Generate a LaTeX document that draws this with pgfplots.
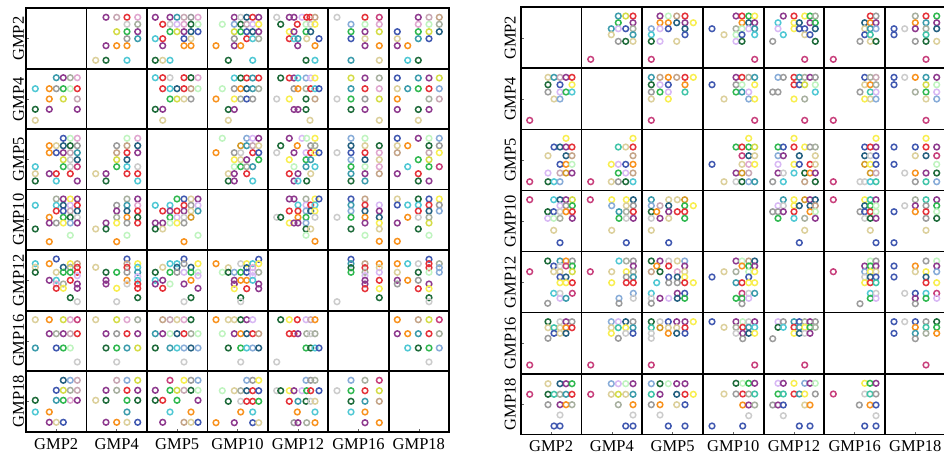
\documentclass[border=0pt]{standalone}
\usepackage{pgfplots}
\pgfplotsset{compat=1.18}
\usepackage{fontspec}
\setmainfont{Liberation Serif}

% palette of the circle outlines
\definecolor{cpu}{HTML}{8E3A8E}
\definecolor{crd}{HTML}{E53239}
\definecolor{cpk}{HTML}{E0A8D0}
\definecolor{cgp}{HTML}{C8A8B4}
\definecolor{clg}{HTML}{CCCCCC}
\definecolor{col}{HTML}{A8B0A0}
\definecolor{cyg}{HTML}{D4DC48}
\definecolor{cgn}{HTML}{30B850}
\definecolor{cdg}{HTML}{1E6B3A}
\definecolor{cor}{HTML}{F8921E}
\definecolor{ccy}{HTML}{50C8D4}
\definecolor{ctl}{HTML}{3C9CAC}
\definecolor{cbl}{HTML}{4058B0}
\definecolor{ckh}{HTML}{DCD09C}
\definecolor{cmg}{HTML}{C0F4C0}
\definecolor{cgy}{HTML}{9C9C9C}
\definecolor{cye}{HTML}{F8EE50}
\definecolor{csb}{HTML}{88ACD8}
\definecolor{clv}{HTML}{D8B8F4}
\definecolor{ctn}{HTML}{C4A488}
\definecolor{cmb}{HTML}{C8407C}
\definecolor{cdt}{HTML}{246080}
\definecolor{caq}{HTML}{40C4A8}
\definecolor{cgd}{HTML}{D49A28}

\tikzset{mk/.style={mark=o,line width=1.5pt,draw=#1}}

\pgfplotsset{
  spm/.style={
    scale only axis,
    axis line style={black, line width=1.7pt},
    tick style={black!60, line width=0.6pt},
    major tick length=3pt,
    xtick pos=left, ytick pos=left,
    xticklabels={GMP2,GMP4,GMP5,GMP10,GMP12,GMP16,GMP18},
    yticklabels={GMP18,GMP16,GMP12,GMP10,GMP5,GMP4,GMP2},
    tick label style={font=\fontsize{16.5pt}{19pt}\selectfont},
    xticklabel style={anchor=north, inner sep=0pt, yshift=-6.3pt},
    extra tick style={grid=major, major grid style={black, line width=1.8pt}, major tick length=0pt},
    extra x tick labels={,,,,,},
    extra y tick labels={,,,,,},
  },
  pts/.style={
    scatter, only marks, mark size=2.85pt,
    scatter src=explicit symbolic,
    scatter/classes={
      pu={mk=cpu}, rd={mk=crd}, pk={mk=cpk}, gp={mk=cgp}, lg={mk=clg},
      ol={mk=col}, yg={mk=cyg}, gn={mk=cgn}, dg={mk=cdg}, or={mk=cor},
      cy={mk=ccy}, tl={mk=ctl}, bl={mk=cbl}, kh={mk=ckh}, mg={mk=cmg},
      gy={mk=cgy}, ye={mk=cye}, sb={mk=csb}, lv={mk=clv}, tn={mk=ctn},
      mb={mk=cmb}, dt={mk=cdt}, aq={mk=caq}, gd={mk=cgd}}
  }
}

\begin{document}
\begin{tikzpicture}
\path[use as bounding box] (0,0) rectangle (944pt,454pt);
\clip (0,0) rectangle (944pt,454pt);

% ---------------- left scatterplot matrix ----------------
\begin{axis}[spm,
  at={(26pt,22.3pt)}, anchor=south west,
  width=423pt, height=423.4pt,
  xmin=26, xmax=449, ymin=-431.7, ymax=-8.3,
  xtick={56.25,116.75,177.2,237.6,298,358.4,418.8},
  ytick={-401.35,-340.85,-280.35,-219.75,-159.4,-99.15,-38.65},
  yticklabel style={xshift=-2pt, rotate=90, anchor=base, inner sep=0pt},
  extra x ticks={86.5,147,207.4,267.8,328.2,388.6},
  extra y ticks={-69,-129.3,-189.5,-250,-310.7,-371},
]
\addplot[pts] table[row sep=\\, meta=c, y expr=-\thisrow{y}] {
x y c \\
106 17.3 pu \\ 116.7 17.3 gp \\ 127 17.3 rd \\ 137.7 17.3 pk \\ 127 24.3 lg \\ 137.7 24.3 ol \\ 116.7 31.7 yg \\ 127 31.7 gn \\ 137.7 31.7 pu \\ 127 38.7 gy \\ 137.7 38.7 tl \\ 106 45.7 pu \\ 116.7 45.7 or \\ 127 45.7 or \\ 95.7 60.3 kh \\ 106 60.3 dg \\ 127 60.3 cy \\
155.3 17.3 pu \\ 170 17.3 pu \\ 177 17.3 tl \\ 184 17.3 gp \\ 191 17.3 gy \\ 198 17.3 pk \\ 162.7 24.3 rd \\ 170 24.3 lg \\ 177 24.3 lv \\ 184 24.3 pk \\ 191 24.3 dg \\ 198 24.3 mg \\ 170 31.7 gn \\ 177 31.7 yg \\ 184 31.7 pu \\ 191 31.7 dt \\ 198 31.7 bl \\ 155.3 38.7 cy \\ 162.7 38.7 rd \\ 184 38.7 bl \\ 191 38.7 kh \\ 162.7 45.7 pu \\ 184 45.7 or \\ 191 45.7 or \\ 155.3 60.3 dg \\ 162.7 60.3 kh \\ 170 60.3 cy \\
234.3 17.3 pu \\ 240.7 17.3 lg \\ 246.7 17.3 dt \\ 252.7 17.3 rd \\ 258.7 17.3 pu \\ 222.3 24.3 mg \\ 234.3 24.3 sb \\ 240.7 24.3 dg \\ 246.7 24.3 gp \\ 252.7 24.3 lv \\ 258.7 24.3 ye \\ 234.3 31.7 yg \\ 240.7 31.7 gn \\ 246.7 31.7 bl \\ 252.7 31.7 dt \\ 258.7 31.7 pu \\ 234.3 38.7 gy \\ 246.7 38.7 rd \\ 252.7 38.7 cy \\ 258.7 38.7 ol \\ 216 45.7 or \\ 234.3 45.7 pu \\ 240.7 45.7 or \\ 228.3 60.3 dg \\ 252.7 60.3 cy \\
276.7 17.3 lg \\ 289.3 17.3 pu \\ 294 17.3 pu \\ 302 17.3 lv \\ 306.7 17.3 rd \\ 310 17.3 rd \\ 315 17.3 tn \\ 280.7 24.3 dg \\ 297.3 24.3 rd \\ 306 24.3 mg \\ 310.7 24.3 lg \\ 315 24.3 ye \\ 289.3 31.7 ye \\ 294 31.7 pu \\ 306 31.7 gn \\ 310.7 31.7 dt \\ 289.3 38.7 rd \\ 294 38.7 cy \\ 298 38.7 tl \\ 306.7 38.7 kh \\ 319 38.7 bl \\ 297.7 45.7 pu \\ 315 45.7 or \\ 306 60.3 dg \\ 315 60.3 cy \\
337 17.3 lg \\ 365 17.3 rd \\ 379.3 17.3 mb \\ 351 24.3 sb \\ 365 24.3 mg \\ 379.3 24.3 pk \\ 351 31.7 gn \\ 365 31.7 pu \\ 379.3 31.7 yg \\ 351 38.7 bl \\ 365 38.7 kh \\ 365 45.7 pu \\ 379.3 45.7 or \\ 351 60.3 tl \\ 379.3 60.3 kh \\
418.3 17.3 pu \\ 429 17.3 gp \\ 439.3 17.3 tn \\ 418.3 24.3 pk \\ 429 24.3 mg \\ 439.3 24.3 ol \\ 397.3 31.7 bl \\ 418.3 31.7 gn \\ 429 31.7 yg \\ 439.3 31.7 dt \\ 397.3 38.7 kh \\ 418.3 38.7 tl \\ 429 38.7 bl \\ 397.3 45.7 pu \\ 407.7 45.7 or \\ 407.7 60.3 cy \\ 418.3 60.3 dg \\
56.3 77.7 tl \\ 63.3 77.7 pu \\ 70.3 77.7 ol \\ 77.3 77.7 pk \\ 35.3 88.7 cy \\ 49.3 88.7 or \\ 56.3 88.7 gy \\ 63.3 88.7 gn \\ 70.3 88.7 mg \\ 77.3 88.7 rd \\ 49.3 99 or \\ 63.3 99 yg \\ 77.3 99 gp \\ 35.3 109.3 dg \\ 49.3 109.3 pu \\ 77.3 109.3 pu \\ 35.3 120.3 kh \\
155.3 77.7 cy \\ 162.7 77.7 rd \\ 170 77.7 lg \\ 184 77.7 rd \\ 191 77.7 dg \\ 198 77.7 pk \\ 162.7 88.7 rd \\ 170 88.7 cy \\ 177 88.7 dt \\ 184 88.7 rd \\ 191 88.7 tn \\ 198 88.7 mg \\ 170 99 gn \\ 177 99 yg \\ 184 99 kh \\ 191 99 gy \\ 155.3 109.3 dg \\ 162.7 109.3 pu \\ 162.7 120.3 kh \\
234.3 78 cy \\ 240.7 78 dg \\ 246.7 78 rd \\ 252.7 78 tl \\ 258.7 78 rd \\ 222.3 88.7 mg \\ 234.3 88.7 gy \\ 240.7 88.7 or \\ 246.7 88.7 dt \\ 252.7 88.7 tl \\ 258.7 88.7 ol \\ 216 99 or \\ 234.3 99 ye \\ 240.7 99 ol \\ 246.7 99 bl \\ 252.7 99 gy \\ 228.3 109.5 dg \\ 234.3 109.5 pu \\ 228.3 120.3 kh \\
280.7 78 dg \\ 289.3 78 rd \\ 294 78 pu \\ 298 78 cy \\ 306 78 sb \\ 310.7 78 lv \\ 315 78 ye \\ 294 88.7 gy \\ 298 88.7 or \\ 306 88.7 ol \\ 310.7 88.7 rd \\ 315 88.7 cy \\ 319 88.7 bl \\ 276.7 99 lg \\ 289.3 99 ye \\ 306 99 dg \\ 315 99 tn \\ 294 109.5 pu \\ 298 109.5 pu \\ 306 109.5 dg \\ 310 120.3 kh \\
351 78 yg \\ 365 78 pu \\ 379.3 78 ol \\ 351 88.7 tl \\ 365 88.7 rd \\ 379.3 88.7 pk \\ 337 99 lg \\ 351 99 gn \\ 365 99 gy \\ 379.3 99 yg \\ 351 109.5 dg \\ 365 109.5 pu \\ 379.3 120.3 kh \\
397.3 78 bl \\ 418.3 78 tl \\ 429 78 pu \\ 439.3 78 yg \\ 397.3 88.7 kh \\ 407.7 88.7 tl \\ 418.3 88.7 gn \\ 429 88.7 rd \\ 439.3 88.7 sb \\ 397.3 99 or \\ 429 99 ol \\ 439.3 99 gp \\ 397.3 109.5 pu \\ 418.3 109.5 dg \\ 429 109.5 pu \\ 418.3 120.3 kh \\
63.3 138.3 bl \\ 70.3 138.3 mg \\ 77.3 138.3 pk \\ 49.3 145.7 or \\ 56.3 145.7 kh \\ 63.3 145.7 dt \\ 70.3 145.7 dg \\ 77.3 145.7 gy \\ 49.3 152.7 or \\ 56.3 152.7 bl \\ 63.3 152.7 pu \\ 70.3 152.7 gp \\ 77.3 152.7 tl \\ 63.3 159.7 yg \\ 70.3 159.7 lg \\ 77.3 159.7 dt \\ 35.3 166.7 cy \\ 63.3 166.7 gn \\ 70.3 166.7 lg \\ 77.3 166.7 mb \\ 35.3 173.7 kh \\ 49.3 173.7 pu \\ 56.3 173.7 rd \\ 70.3 173.7 rd \\ 35.3 181 dg \\ 56.3 181 cy \\ 77.3 181 pu \\
127 138.3 mg \\ 137.7 138.3 pk \\ 116.7 145.7 gy \\ 127 145.7 tn \\ 137.7 145.7 dt \\ 116.7 152.7 tn \\ 127 152.7 rd \\ 137.7 152.7 pu \\ 116.7 159.7 yg \\ 127 159.7 dt \\ 116.7 166.7 gn \\ 127 166.7 cy \\ 137.7 166.7 lg \\ 95.7 173.7 kh \\ 106 173.7 pu \\ 127 173.7 rd \\ 137.7 173.7 rd \\ 106 181 dg \\ 137.7 181 cy \\
222.3 138.3 mg \\ 246.7 138.3 sb \\ 252.7 138.3 lv \\ 258.7 138.3 pu \\ 240.7 145.7 gd \\ 246.7 145.7 tl \\ 252.7 145.7 gp \\ 258.7 145.7 kh \\ 216 152.7 or \\ 234.3 152.7 gy \\ 240.7 152.7 lg \\ 252.7 152.7 rd \\ 258.7 152.7 bl \\ 234.3 159.7 ye \\ 240.7 159.7 kh \\ 246.7 159.7 pu \\ 258.7 159.7 gn \\ 234.3 166.7 mg \\ 240.7 166.7 gn \\ 246.7 166.7 ol \\ 252.7 166.7 tl \\ 228.3 173.7 kh \\ 234.3 173.7 pu \\ 246.7 173.7 rd \\ 228.3 181 dg \\ 234.3 181 pu \\ 252.7 181 cy \\
289.3 138.3 pu \\ 302 138.3 lv \\ 306.7 138.3 mg \\ 315 138.3 ye \\ 280.7 145.7 dg \\ 297.3 145.7 or \\ 310.7 145.7 gy \\ 315 145.7 ol \\ 276.7 152.7 lg \\ 294 152.7 pu \\ 306 152.7 lv \\ 310.7 152.7 rd \\ 315 152.7 ye \\ 319 152.7 bl \\ 289.3 159.7 ye \\ 306 159.7 gn \\ 310.7 159.7 tl \\ 294 166.7 mg \\ 306 166.7 tl \\ 315 166.7 cy \\ 289.3 173.7 rd \\ 298 173.7 pu \\ 310.7 173.7 kh \\ 294 181 pu \\ 298 181 cy \\ 306.7 181 dg \\
351 138.3 sb \\ 365 138.3 mg \\ 351 145.7 dt \\ 365 145.7 kh \\ 379.3 145.7 dg \\ 337 152.7 lg \\ 351 152.7 bl \\ 365 152.7 rd \\ 379.3 152.7 pk \\ 351 159.7 sb \\ 365 159.7 dt \\ 379.3 159.7 kh \\ 351 166.7 gn \\ 365 166.7 mg \\ 379.3 166.7 pk \\ 351 173.7 tl \\ 365 173.7 pu \\ 379.3 173.7 tn \\ 351 181 dg \\ 365 181 tl \\
397.3 138.3 bl \\ 418.3 138.3 pu \\ 429 138.3 mg \\ 439.3 138.3 sb \\ 397.3 145.7 kh \\ 407.7 145.7 or \\ 429 145.7 dg \\ 439.3 145.7 gy \\ 397.3 152.7 tn \\ 429 152.7 gp \\ 439.3 152.7 ye \\ 418.3 159.7 gn \\ 429 159.7 yg \\ 407.7 166.7 cy \\ 429 166.7 gn \\ 439.3 166.7 mb \\ 397.3 173.7 pu \\ 418.3 173.7 rd \\ 418.3 181 dg \\ 429 181 pu \\
56.3 199 ol \\ 63.3 199 pu \\ 70.3 199 ye \\ 77.3 199 pu \\ 35.3 205.3 cy \\ 56.3 205.3 cy \\ 63.3 205.3 dt \\ 70.3 205.3 lv \\ 77.3 205.3 rd \\ 56.3 211 rd \\ 63.3 211 bl \\ 70.3 211 gp \\ 77.3 211 dt \\ 49.3 217.3 or \\ 63.3 217.3 gn \\ 70.3 217.3 dg \\ 77.3 217.3 lg \\ 49.3 223 pu \\ 56.3 223 gy \\ 63.3 223 ye \\ 70.3 223 sb \\ 77.3 223 pu \\ 35.3 229 dg \\ 70.3 235.3 mg \\ 49.3 241.7 or \\
127 199 ol \\ 137.7 199 pu \\ 116.7 205.3 gy \\ 127 205.3 tl \\ 137.7 205.3 pk \\ 116.7 211 pu \\ 127 211 dt \\ 137.7 211 rd \\ 116.7 217.3 ol \\ 127 217.3 or \\ 137.7 217.3 dg \\ 106 223 pu \\ 116.7 223 ye \\ 127 223 gy \\ 137.7 223 rd \\ 95.7 229 kh \\ 106 229 dg \\ 127 235.3 mg \\ 116.7 241.7 or \\
177 199 gn \\ 184 199 bl \\ 191 199 kh \\ 198 199 pu \\ 155.3 205.3 cy \\ 170 205.3 cy \\ 184 205.3 rd \\ 191 205.3 gy \\ 198 205.3 lv \\ 162.7 211 rd \\ 170 211 pu \\ 177 211 rd \\ 184 211 pu \\ 191 211 kh \\ 198 211 tl \\ 170 217.3 gn \\ 177 217.3 lv \\ 184 217.3 lg \\ 191 217.3 gd \\ 155.3 223 pu \\ 162.7 223 pu \\ 170 223 mg \\ 177 223 ye \\ 184 223 gy \\ 155.3 229 dg \\ 162.7 229 kh \\ 198 235.3 mg \\ 184 241.7 or \\
289.3 199 pu \\ 294 199 pu \\ 306 199 ol \\ 315 199 ye \\ 319 199 bl \\ 298 205 cy \\ 306 205 lv \\ 310.7 205 rd \\ 315 205 cy \\ 289.3 211 rd \\ 298 211 rd \\ 306 211 sb \\ 310.7 211 dt \\ 315 211 ye \\ 276.7 217.3 lg \\ 280.7 217.3 dg \\ 298 217.3 or \\ 306 217.3 gn \\ 315 217.3 lg \\ 289.3 223 ye \\ 294 223 pu \\ 298 223 pu \\ 306 223 sb \\ 306 229 dg \\ 310.7 229 kh \\ 306 235.3 mg \\ 315 241.3 or \\
351 199 bl \\ 365 199 tn \\ 351 205 tl \\ 365 205 rd \\ 379.3 205 lv \\ 351 211 sb \\ 365 211 dt \\ 379.3 211 pu \\ 337 217.3 lg \\ 351 217.3 gn \\ 365 217.3 or \\ 379.3 217.3 dt \\ 365 223 pu \\ 379.3 223 ye \\ 351 229 dg \\ 379.3 229 kh \\ 365 235.3 mg \\ 379.3 241.3 or \\
397.3 199 kh \\ 418.3 199 dg \\ 429 199 bl \\ 439.3 199 ye \\ 397.3 205 bl \\ 407.7 205 cy \\ 418.3 205 cy \\ 429 205 rd \\ 439.3 205 gy \\ 418.3 211 rd \\ 429 211 dt \\ 439.3 211 sb \\ 407.7 217.3 or \\ 418.3 217.3 lg \\ 429 217.3 ol \\ 397.3 223 pu \\ 429 223 yg \\ 418.3 229 dg \\ 429 235.3 mg \\ 397.3 241.3 or \\
56.3 259 bl \\ 35.3 263.7 cy \\ 49.3 263.7 or \\ 70.3 263.7 ye \\ 77.3 263.7 tn \\ 35.3 267.3 kh \\ 63.3 267.3 dt \\ 70.3 267.3 ol \\ 77.3 267.3 rd \\ 35.3 272.3 dg \\ 56.3 272.3 kh \\ 63.3 272.3 gn \\ 70.3 272.3 gn \\ 77.3 272.3 rd \\ 77.3 275.7 lv \\ 49.3 280.3 pu \\ 56.3 280.3 cy \\ 70.3 280.3 rd \\ 56.3 284 pk \\ 63.3 284 ol \\ 77.3 284 pu \\ 56.3 288.3 rd \\ 63.3 288.3 ye \\ 77.3 288.3 pu \\ 70.3 297.7 dg \\ 77.3 301.7 lg \\
127 259 bl \\ 127 263.7 tn \\ 137.7 263.7 ye \\ 95.7 267.3 kh \\ 127 267.3 rd \\ 137.7 267.3 cy \\ 106 272.3 dg \\ 116.7 272.3 gn \\ 127 272.3 gy \\ 137.7 272.3 tl \\ 137.7 276.7 lv \\ 106 280.3 pu \\ 127 280.3 or \\ 137.7 280.3 cy \\ 106 284 pu \\ 127 284 lg \\ 137.7 284 rd \\ 116.7 288.3 ye \\ 137.7 288.3 rd \\ 137.7 297.7 dg \\ 116.7 301.7 lg \\
184 259 bl \\ 170 263.7 cy \\ 177 263.7 cy \\ 184 263.7 gy \\ 198 263.7 ye \\ 162.7 267.3 kh \\ 177 267.3 dt \\ 191 267.3 dt \\ 155.3 272.3 dg \\ 170 272.3 gn \\ 177 272.3 gy \\ 184 272.3 lv \\ 191 272.3 gn \\ 198 272.3 mg \\ 198 275.7 lv \\ 155.3 280.3 cy \\ 162.7 280.3 pu \\ 191 280.3 or \\ 155.3 284 pu \\ 170 284 mg \\ 184 284 pu \\ 162.7 288.3 rd \\ 198 288.3 pu \\ 191 297.7 dg \\ 184 301.7 lg \\
258.7 259.3 bl \\ 216 263.7 or \\ 240.7 263.7 lg \\ 246.7 263.7 ye \\ 252.7 263.7 cy \\ 258.7 263.7 ye \\ 228.3 267.7 kh \\ 246.7 267.7 dt \\ 252.7 267.7 pk \\ 222.3 272.3 mg \\ 228.3 272.3 dg \\ 234.3 272.3 sb \\ 240.7 272.3 gn \\ 246.7 272.3 bl \\ 252.7 272.3 lv \\ 258.7 272.3 ol \\ 252.7 275.7 lv \\ 234.3 280.3 pu \\ 240.7 280.3 or \\ 246.7 280.3 or \\ 252.7 280.3 cy \\ 234.3 284 pu \\ 258.7 284 pu \\ 234.3 288.7 ye \\ 246.7 288.7 rd \\ 258.7 288.7 pu \\ 240.7 297.7 dg \\ 240.7 301.7 lg \\
351 259.3 bl \\ 351 263.7 tl \\ 365 263.7 tn \\ 379.3 263.7 or \\ 351 267.7 dg \\ 365 267.7 rd \\ 379.3 267.7 kh \\ 351 272.3 gn \\ 365 272.3 ol \\ 379.3 272.3 lv \\ 365 275.7 lv \\ 365 280.3 pu \\ 379.3 280.3 rd \\ 365 284 pu \\ 365 288.7 rd \\ 379.3 288.7 ye \\ 379.3 297.7 dg \\ 337 301.7 lg \\
429 259.3 bl \\ 397.3 263.7 or \\ 407.7 263.7 cy \\ 418.3 263.7 lg \\ 429 263.7 rd \\ 439.3 263.7 ol \\ 429 267.7 rd \\ 439.3 267.7 sb \\ 397.3 272.3 kh \\ 418.3 272.3 dg \\ 429 272.3 mg \\ 439.3 272.3 sb \\ 397.3 280.3 pu \\ 407.7 280.3 or \\ 418.3 280.3 gy \\ 397.3 284 gy \\ 429 284 pu \\ 418.3 288.7 rd \\ 429 288.7 ye \\ 429 297.7 dg \\ 429 301.7 lg \\
35.3 319.7 kh \\ 49.3 319.7 or \\ 63.3 319.7 yg \\ 70.3 319.7 pk \\ 77.3 319.7 mb \\ 49.3 333.7 pu \\ 56.3 333.7 ol \\ 63.3 333.7 pu \\ 70.3 333.7 gp \\ 77.3 333.7 rd \\ 35.3 348 tl \\ 56.3 348 bl \\ 63.3 348 gn \\ 70.3 348 mg \\ 77.3 362 lg \\
95.7 319.7 kh \\ 116.7 319.7 yg \\ 127 319.7 pk \\ 137.7 319.7 ol \\ 106 333.7 pu \\ 116.7 333.7 gy \\ 127 333.7 rd \\ 137.7 333.7 pu \\ 106 348 dg \\ 116.7 348 gn \\ 127 348 tl \\ 137.7 348 yg \\ 116.7 362 lg \\
162.7 319.7 tn \\ 170 319.7 gp \\ 177 319.7 kh \\ 184 319.7 pk \\ 191 319.7 dg \\ 155.3 333.7 tl \\ 162.7 333.7 pu \\ 170 333.7 mg \\ 177 333.7 dt \\ 184 333.7 rd \\ 191 333.7 ol \\ 198 333.7 mg \\ 155.3 348 dg \\ 170 348 tl \\ 177 348 cy \\ 184 348 sb \\ 191 348 dt \\ 198 348 sb \\ 184 362 lg \\
216 319.7 or \\ 228.3 319.7 kh \\ 234.3 319.7 kh \\ 240.7 319.7 dg \\ 246.7 319.7 pu \\ 252.7 319.7 lv \\ 222.3 333.7 mg \\ 234.3 333.7 pu \\ 240.7 333.7 or \\ 246.7 333.7 dt \\ 252.7 333.7 rd \\ 258.7 333.7 tn \\ 228.3 348 dg \\ 240.7 348 gn \\ 246.7 348 cy \\ 252.7 348 sb \\ 258.7 348 dt \\ 240.7 362 lg \\
280.7 319.7 dg \\ 289.3 319.7 ye \\ 297.3 319.7 rd \\ 306 319.7 lv \\ 310.7 319.7 gp \\ 315 319.7 or \\ 289.3 333.7 rd \\ 294 333.7 rd \\ 298 333.7 pu \\ 306.7 333.7 ol \\ 310.7 333.7 lg \\ 315 333.7 ol \\ 306 348 gn \\ 310.7 348 dg \\ 315 348 cy \\ 319 348 bl \\ 276.7 362 lg \\
397.3 319.7 or \\ 418.3 319.7 tn \\ 429 319.7 yg \\ 439.3 319.7 mb \\ 397.3 333.7 pu \\ 407.7 333.7 or \\ 418.3 333.7 tl \\ 429 333.7 rd \\ 439.3 333.7 ol \\ 407.7 348 cy \\ 418.3 348 dg \\ 429 348 gn \\ 439.3 348 sb \\ 429 362 lg \\
63.3 380.3 dt \\ 70.3 380.3 sb \\ 77.3 380.3 gp \\ 56.3 390.3 bl \\ 63.3 390.3 yg \\ 70.3 390.3 ol \\ 77.3 390.3 gp \\ 35.3 400.3 dg \\ 56.3 400.3 tl \\ 63.3 400.3 gn \\ 70.3 400.3 pk \\ 77.3 400.3 pu \\ 35.3 412 cy \\ 49.3 412 or \\ 49.3 422.3 pu \\ 56.3 422.3 kh \\ 63.3 422.3 bl \\
116.7 380.3 gp \\ 127 380.3 sb \\ 137.7 380.3 yg \\ 106 390.3 pu \\ 116.7 390.3 ol \\ 127 390.3 rd \\ 137.7 390.3 pu \\ 95.7 400.3 kh \\ 106 400.3 dg \\ 127 400.3 gn \\ 137.7 400.3 dg \\ 127 412 tl \\ 106 422.3 pu \\ 116.7 422.3 or \\ 127 422.3 kh \\ 137.7 422.3 bl \\
170 380.3 mb \\ 184 380.3 ye \\ 191 380.3 gy \\ 198 380.3 sb \\ 155.3 390.3 pu \\ 170 390.3 gn \\ 177 390.3 yg \\ 184 390.3 gp \\ 191 390.3 dg \\ 198 390.3 mg \\ 155.3 400.3 dg \\ 162.7 400.3 rd \\ 177 400.3 gn \\ 198 400.3 pu \\ 170 412 cy \\ 191 412 or \\ 162.7 422.3 pu \\ 184 422.3 tn \\ 191 422.3 kh \\ 198 422.3 bl \\
246.7 380.3 sb \\ 252.7 380.3 gy \\ 258.7 380.3 ye \\ 222.3 390.7 mg \\ 234.3 390.7 kh \\ 240.7 390.7 ol \\ 246.7 390.7 dt \\ 252.7 390.7 rd \\ 258.7 390.7 bl \\ 228.3 401.3 dg \\ 240.7 401.3 lg \\ 246.7 401.3 rd \\ 252.7 401.3 rd \\ 258.7 401.3 gn \\ 240.7 412 or \\ 252.7 412 cy \\ 216 422.7 or \\ 234.3 422.7 pu \\ 252.7 422.7 bl \\ 258.7 422.7 kh \\
306 380.3 sb \\ 310.7 380.3 gy \\ 315 380.3 ol \\ 276.7 390.7 lg \\ 280.7 390.7 dg \\ 289.3 390.7 ye \\ 294 390.7 pu \\ 302 390.7 lv \\ 306.7 390.7 gn \\ 310.7 390.7 rd \\ 319 390.7 bl \\ 289.3 401.3 rd \\ 298 401.3 tl \\ 306 401.3 dg \\ 310.7 401.3 lg \\ 315 401.3 kh \\ 297.3 412 or \\ 315 412 cy \\ 294 422.7 gy \\ 298 422.7 pu \\ 306.7 422.7 ol \\ 315 422.7 or \\
351 380.3 sb \\ 365 380.3 ol \\ 379.3 380.3 mb \\ 337 390.7 lg \\ 351 390.7 gn \\ 365 390.7 rd \\ 379.3 390.7 yg \\ 351 401.3 dg \\ 365 401.3 tl \\ 379.3 401.3 tn \\ 351 412 cy \\ 365 412 or \\ 365 422.7 pu \\ 379.3 422.7 or \\
};
\end{axis}

% ---------------- right scatterplot matrix ----------------
\begin{axis}[spm,
  at={(520.7pt,19.35pt)}, anchor=south west,
  width=425pt, height=427.3pt,
  xmin=520.7, xmax=945.7, ymin=-434.65, ymax=-7.3,
  xtick={551.1,611.9,672.65,733.3,793.95,854.65,915.35},
  ytick={-404.1,-343.1,-282,-221,-159.9,-98.9,-37.8},
  yticklabel style={xshift=-5pt, rotate=90, anchor=base, inner sep=0pt},
  xticklabel style={yshift=0.6pt},
  extra x ticks={581.5,642.3,703,763.6,824.3,885},
  extra y ticks={-68.35,-129.4,-190.45,-251.5,-312.55,-373.6},
]
\addplot[pts] table[row sep=\\, meta=c, y expr=-\thisrow{y}] {
x y c \\
618.3 16 tl \\ 625.7 16 yg \\ 633 16 rd \\ 618.3 22.7 gn \\ 633 22.7 pu \\ 611.3 28.7 tl \\ 618.3 28.7 lv \\ 625.7 28.7 bl \\ 633 28.7 ol \\ 611.3 34.7 kh \\ 633 34.7 tl \\ 618.3 41.3 gy \\ 625.7 41.3 dg \\ 633 41.3 kh \\ 590.7 59.3 mb \\
660 16 pu \\ 668.3 16 mg \\ 676.7 16 tn \\ 685 16 rd \\ 660 22.7 or \\ 668.3 22.7 or \\ 676.7 22.7 dt \\ 685 22.7 pu \\ 693.3 22.7 ye \\ 651.3 28.7 sb \\ 660 28.7 lv \\ 668.3 28.7 bl \\ 685 28.7 dt \\ 651.3 34.7 cy \\ 685 34.7 bl \\ 651.3 41.3 dg \\ 660 41.3 lv \\ 676.7 41.3 kh \\ 651.3 59.3 mb \\
736 16 pu \\ 742 16 rd \\ 748.7 16 gn \\ 754.7 16 ye \\ 742 22.7 or \\ 748.7 22.7 dt \\ 754.7 22.7 pu \\ 712 28.7 bl \\ 736 28.7 ol \\ 742 28.7 mg \\ 748.7 28.7 lv \\ 754.7 28.7 tl \\ 724 34.7 kh \\ 736 34.7 mg \\ 742 34.7 bl \\ 754.7 34.7 cy \\ 736 41.3 lv \\ 742 41.3 dg \\ 754.7 59.3 mb \\
783.3 16 pu \\ 794 16 rd \\ 804.7 16 ye \\ 810 16 gn \\ 815.3 16 ol \\ 778 22.7 cy \\ 794 22.7 ye \\ 799.3 22.7 dt \\ 810 22.7 pu \\ 815.3 22.7 gn \\ 778 28.7 lv \\ 794 28.7 ye \\ 799.3 28.7 bl \\ 804.7 28.7 bl \\ 815.3 28.7 dt \\ 783.3 34.7 cy \\ 804.7 34.7 kh \\ 810 34.7 bl \\ 772.7 41.3 gy \\ 815.3 41.3 dg \\ 804.7 59.3 mb \\
870.3 16 rd \\ 876 16 gy \\ 864.7 22.7 dt \\ 870.3 22.7 or \\ 876 22.7 pu \\ 864.7 28.7 kh \\ 870.3 28.7 tl \\ 876 28.7 sb \\ 864.7 34.7 bl \\ 870.3 34.7 aq \\ 860 41.3 gy \\ 870.3 41.3 kh \\ 876 41.3 dg \\ 833.3 59.3 mb \\
915.3 16 ol \\ 926 16 rd \\ 936.7 16 gn \\ 915.3 22.7 or \\ 926 22.7 tl \\ 936.7 22.7 pu \\ 894 28.7 bl \\ 904.7 28.7 lg \\ 915.3 28.7 pu \\ 926 28.7 ol \\ 936.7 28.7 dt \\ 894 34.7 bl \\ 926 34.7 aq \\ 915.3 41.3 gy \\ 926 41.3 dg \\ 936.7 41.3 kh \\ 926 59.3 mb \\
548 77.3 kh \\ 554 77.3 tl \\ 560 77.3 gp \\ 566 77.3 pu \\ 572 77.3 rd \\ 548 84.7 dg \\ 560 84.7 bl \\ 572 84.7 ye \\ 548 92 gy \\ 560 92 lv \\ 566 92 gn \\ 572 92 cy \\ 554 99 kh \\ 560 99 sb \\ 529.7 120.3 mb \\
651.3 77.3 tl \\ 660 77.3 tn \\ 668.3 77.3 or \\ 676.7 77.3 tn \\ 685 77.3 rd \\ 693.3 77.3 ye \\ 651.3 84.7 dg \\ 660 84.7 lv \\ 668.3 84.7 bl \\ 685 84.7 or \\ 651.3 92 gy \\ 660 92 gn \\ 668.3 92 lv \\ 685 92 aq \\ 651.3 99 kh \\ 668.3 99 ye \\ 651.3 120.3 mb \\
736 77.3 pu \\ 742 77.3 rd \\ 748.7 77.3 ol \\ 754.7 77.3 tl \\ 712 84.7 bl \\ 736 84.7 gy \\ 742 84.7 mg \\ 754.7 84.7 ye \\ 736 92 gn \\ 742 92 tl \\ 748.7 92 lv \\ 724 99 kh \\ 748.7 99 sb \\ 754.7 99 ye \\ 754.7 120.3 mb \\
778 77.3 sb \\ 783.3 77.3 gy \\ 794 77.3 rd \\ 799.3 77.3 tl \\ 804.7 77.3 ol \\ 810 77.3 pu \\ 815.3 77.3 gy \\ 794 84.7 rd \\ 799.3 84.7 bl \\ 804.7 84.7 yg \\ 815.3 84.7 mg \\ 772.7 92 gy \\ 778 92 gy \\ 815.3 92 cy \\ 794 99 ye \\ 804.7 99 ol \\ 804.7 120.3 mb \\
864.7 77.3 bl \\ 870.3 77.3 ol \\ 876 77.3 gp \\ 864.7 84.7 kh \\ 870.3 84.7 or \\ 876 84.7 ol \\ 860 92 gy \\ 870.3 92 aq \\ 876 92 lv \\ 864.7 99 ye \\ 870.3 99 kh \\ 876 99 sb \\ 833.3 120.3 mb \\
894 77.3 bl \\ 904.7 77.3 lg \\ 915.3 77.3 or \\ 926 77.3 tl \\ 936.7 77.3 pu \\ 894 84.7 bl \\ 926 84.7 yg \\ 936.7 84.7 mg \\ 915.3 92 ol \\ 926 92 gn \\ 936.7 92 lv \\ 926 99 kh \\ 936.7 99 sb \\ 926 120.3 mb \\
566 138.3 ye \\ 554 147 bl \\ 560 147 dt \\ 566 147 pu \\ 572 147 rd \\ 548 155.7 kh \\ 566 155.7 dt \\ 572 155.7 tn \\ 560 164.3 bl \\ 566 164.3 or \\ 572 164.3 mg \\ 548 173 lv \\ 560 173 gp \\ 566 173 gd \\ 572 173 pu \\ 529.7 181.7 mb \\ 548 181.7 dg \\ 554 181.7 cy \\ 560 181.7 sb \\
633 138.3 ye \\ 618.3 147 aq \\ 625.7 147 kh \\ 633 147 rd \\ 633 155.7 tn \\ 611.3 164.3 ye \\ 618.3 164.3 lv \\ 625.7 164.3 bl \\ 633 164.3 or \\ 618.3 173 gn \\ 625.7 173 lv \\ 633 173 tn \\ 590.7 181.7 mb \\ 611.3 181.7 kh \\ 618.3 181.7 gy \\ 625.7 181.7 dg \\ 633 181.7 cy \\
748.7 138.3 ye \\ 736 147 gn \\ 742 147 rd \\ 748.7 147 gn \\ 754.7 147 yg \\ 742 155.7 mb \\ 748.7 155.7 dt \\ 754.7 155.7 kh \\ 712 164.3 bl \\ 742 164.3 kh \\ 748.7 164.3 pk \\ 754.7 164.3 ye \\ 736 173 pu \\ 742 173 gd \\ 748.7 173 gp \\ 724 181.7 kh \\ 736 181.7 lg \\ 742 181.7 dg \\ 748.7 181.7 sb \\ 754.7 181.7 tl \\
794 138.3 ye \\ 778 147 gn \\ 783.3 147 bl \\ 794 147 rd \\ 804.7 147 ye \\ 810 147 gy \\ 815.3 147 ol \\ 778 155.7 sb \\ 783.3 155.7 pu \\ 799.3 155.7 dt \\ 815.3 155.7 kh \\ 778 164.3 lv \\ 794 164.3 ye \\ 799.3 164.3 bl \\ 810 164.3 rd \\ 815.3 164.3 kh \\ 778 173 pu \\ 783.3 173 lg \\ 794 173 cy \\ 804.7 173 dg \\ 810 173 or \\ 815.3 173 pu \\ 772.7 181.7 gy \\ 783.3 181.7 cy \\ 804.7 181.7 tn \\ 815.3 181.7 dg \\
876 138.3 ye \\ 864.7 147 bl \\ 870.3 147 rd \\ 876 147 pu \\ 864.7 155.7 dt \\ 870.3 155.7 lg \\ 876 155.7 bl \\ 864.7 164.3 gd \\ 870.3 164.3 ye \\ 876 164.3 bl \\ 870.3 173 gd \\ 876 173 gp \\ 833.3 181.7 mb \\ 860 181.7 lg \\ 864.7 181.7 lg \\ 870.3 181.7 cy \\ 876 181.7 aq \\
926 138.3 ye \\ 894 147 bl \\ 915.3 147 bl \\ 926 147 rd \\ 936.7 147 pu \\ 915.3 155.7 kh \\ 926 155.7 dt \\ 936.7 155.7 mb \\ 894 164.3 bl \\ 936.7 164.3 mg \\ 904.7 173 lg \\ 915.3 173 or \\ 926 173 pu \\ 936.7 173 dg \\ 915.3 181.7 gy \\ 926 181.7 aq \\ 936.7 181.7 sb \\
529.7 199.7 mb \\ 553.7 199.7 cy \\ 560 199.7 dt \\ 566 199.7 pu \\ 572.3 199.7 yg \\ 560 205.7 lv \\ 566 205.7 gy \\ 572.3 205.7 gn \\ 547.7 211.7 dg \\ 553.7 211.7 bl \\ 560 211.7 lg \\ 566 211.7 or \\ 572.3 211.7 rd \\ 547.7 218.3 lv \\ 553.7 218.3 mg \\ 560 218.3 ol \\ 572.3 218.3 pu \\ 553.7 230.3 kh \\ 560 242.7 bl \\
590.3 199.7 mb \\ 611.7 199.7 ye \\ 626.3 199.7 ye \\ 633.3 199.7 dt \\ 611.7 205.7 sb \\ 626.3 205.7 kh \\ 633.3 205.7 gy \\ 619 211.7 tl \\ 626.3 211.7 ol \\ 633.3 211.7 rd \\ 619 218.3 gn \\ 626.3 218.3 lg \\ 633.3 218.3 pu \\ 611.7 230.3 kh \\ 626.3 242.7 bl \\
651.3 199.7 tl \\ 668.7 199.7 kh \\ 677.3 199.7 kh \\ 684.7 199.7 gd \\ 651.3 205.7 sb \\ 660 205.7 gp \\ 668.7 205.7 dt \\ 684.7 205.7 gn \\ 693.3 205.7 ye \\ 651.3 211.7 dg \\ 656.7 211.7 or \\ 668.7 211.7 pu \\ 677.3 211.7 rd \\ 684.7 211.7 rd \\ 651.3 218.3 lg \\ 660 218.3 pu \\ 668.7 218.3 kh \\ 684.7 218.3 gn \\ 651.3 230.3 kh \\ 668.7 242.7 bl \\
783.3 199.7 tl \\ 794 199.7 ye \\ 804.7 199.7 gd \\ 810 199.7 pu \\ 815.3 199.7 dt \\ 778 205.7 lv \\ 783.3 205.7 lg \\ 794 205.7 ye \\ 799.3 205.7 dt \\ 810 205.7 dt \\ 815.3 205.7 tn \\ 772.7 211.7 gy \\ 778 211.7 gy \\ 783.3 211.7 pu \\ 794 211.7 rd \\ 810 211.7 or \\ 815.3 211.7 mg \\ 778 218.3 gn \\ 794 218.3 cy \\ 804.7 218.3 ol \\ 815.3 218.3 pu \\ 804.7 230.3 kh \\ 799.3 242.7 bl \\
833.3 199.7 mb \\ 864.7 199.7 ye \\ 870.3 199.7 aq \\ 876 199.7 pu \\ 864.7 205.7 dt \\ 870.3 205.7 gn \\ 876 205.7 mg \\ 860 211.7 gy \\ 864.7 211.7 bl \\ 870.3 211.7 rd \\ 876 211.7 mg \\ 864.7 218.3 lg \\ 870.3 218.3 dg \\ 876 218.3 pu \\ 870.3 230.3 kh \\ 876 242.7 bl \\
915.3 199.7 ol \\ 926 199.7 aq \\ 936.7 199.7 pu \\ 904.7 205.7 lg \\ 915.3 205.7 pu \\ 926 205.7 gy \\ 936.7 205.7 gn \\ 894 211.7 bl \\ 915.3 211.7 or \\ 926 211.7 rd \\ 936.7 211.7 mg \\ 926 218.3 gy \\ 936.7 218.3 dg \\ 926 230.3 kh \\ 894 242.7 bl \\
547.7 261 dg \\ 560 261 tl \\ 566 261 or \\ 572.3 261 gy \\ 553.7 266 bl \\ 560 266 lg \\ 566 266 mb \\ 572.3 266 gn \\ 529.7 271.7 mb \\ 553.7 271.7 kh \\ 560 271.7 kh \\ 572.3 271.7 yg \\ 560 277 bl \\ 566 277 dt \\ 560 282.7 ye \\ 566 282.7 ye \\ 572.3 282.7 rd \\ 553.7 293.3 cy \\ 560 293.3 lg \\ 572.3 293.3 mb \\ 560 298.3 lv \\ 566 298.3 tl \\ 547.7 303.3 gy \\
619 261 cy \\ 626.3 261 ol \\ 633.3 261 gy \\ 633.3 266 pu \\ 590.3 271.7 mb \\ 611.7 271.7 kh \\ 626.3 271.7 ye \\ 633.3 271.7 ol \\ 626.3 277 gy \\ 633.3 277 tl \\ 611.7 282.7 ye \\ 626.3 282.7 rd \\ 633.3 282.7 rd \\ 633.3 293.3 sb \\ 619 298.3 sb \\ 633.3 298.3 lg \\ 619 303.3 gy \\
651.3 261 dg \\ 660 261 pu \\ 668.7 261 lg \\ 677.3 261 kh \\ 684.7 261 sb \\ 656.7 266 or \\ 668.7 266 rd \\ 684.7 266 pu \\ 651.3 271.7 tn \\ 660 271.7 dg \\ 677.3 271.7 pk \\ 684.7 271.7 kh \\ 668.7 277 bl \\ 677.3 277 dt \\ 684.7 277 ye \\ 656.7 282.7 cy \\ 668.7 282.7 gy \\ 677.3 282.7 gy \\ 684.7 282.7 rd \\ 693.3 282.7 ye \\ 651.3 293.3 cy \\ 677.3 293.3 pu \\ 684.7 293.3 bl \\ 651.3 298.3 lg \\ 660 298.3 pu \\ 668.7 298.3 lv \\ 677.3 298.3 dt \\ 684.7 298.3 gn \\ 651.3 303.3 gy \\
736 261 pu \\ 742 261 mg \\ 748.7 261 tn \\ 754.7 261 dt \\ 742 266 or \\ 748.7 266 gn \\ 754.7 266 pu \\ 724 271.7 kh \\ 736 271.7 ol \\ 748.7 271.7 mg \\ 754.7 271.7 ye \\ 712 277 bl \\ 748.7 277 bl \\ 736 282.7 tl \\ 742 282.7 rd \\ 748.7 282.7 ye \\ 754.7 282.7 ye \\ 742 293.3 mb \\ 748.7 293.3 lg \\ 754.7 293.3 tl \\ 736 298.3 gn \\ 742 298.3 gn \\ 748.7 298.3 lv \\ 742 303.7 gy \\
870.3 261 mg \\ 876 261 gy \\ 864.7 266 pu \\ 870.3 266 gn \\ 876 266 pu \\ 833.3 271.7 mb \\ 864.7 271.7 sb \\ 870.3 271.7 ye \\ 876 271.7 kh \\ 864.7 277 lg \\ 870.3 277 dt \\ 876 277 bl \\ 864.7 282.7 ye \\ 870.3 282.7 rd \\ 876 282.7 aq \\ 870.3 293.3 cy \\ 876 293.3 lg \\ 870.3 298.3 gn \\ 876 298.3 lv \\ 860 303.7 gy \\
926 261 gy \\ 936.7 261 mg \\ 894 266 bl \\ 915.3 266 or \\ 936.7 266 pu \\ 915.3 271.7 kh \\ 926 271.7 ye \\ 936.7 271.7 sb \\ 894 277 bl \\ 926 277 dt \\ 926 282.7 rd \\ 936.7 282.7 ye \\ 904.7 293.3 lg \\ 915.3 293.3 bl \\ 926 293.3 cy \\ 936.7 293.3 mb \\ 915.3 298.3 pu \\ 926 298.3 gn \\ 936.7 298.3 lv \\ 915.3 303.7 gy \\
548 321.7 dg \\ 560 321.7 lg \\ 566 321.7 pu \\ 572 321.7 gy \\ 548 327.7 kh \\ 554 327.7 aq \\ 560 327.7 kh \\ 566 327.7 or \\ 572 327.7 rd \\ 554 333.3 bl \\ 560 333.3 kh \\ 566 333.3 dt \\ 548 338.3 gy \\ 529.7 365 mb \\
611.3 321.7 sb \\ 618.3 321.7 lv \\ 625.7 321.7 dt \\ 633 321.7 gy \\ 611.3 327.7 kh \\ 618.3 327.7 aq \\ 625.7 327.7 ye \\ 633 327.7 tl \\ 611.3 333.3 ye \\ 625.7 333.3 lg \\ 633 333.3 bl \\ 618.3 338.3 gy \\ 590.7 365 mb \\
651.3 321.7 dg \\ 660 321.7 lg \\ 668.3 321.7 bl \\ 676.7 321.7 pu \\ 685 321.7 pu \\ 693.3 321.7 ye \\ 651.3 327.7 aq \\ 660 327.7 gd \\ 668.3 327.7 kh \\ 676.7 327.7 kh \\ 685 327.7 rd \\ 651.3 333.3 lg \\ 668.3 333.3 or \\ 676.7 333.3 dt \\ 685 333.3 bl \\ 651.3 338.3 lg \\ 651.3 365 mb \\
712 321.7 bl \\ 736 321.7 pu \\ 742.7 321.7 mg \\ 748.7 321.7 lg \\ 754.7 321.7 pu \\ 724 327.3 kh \\ 736 327.3 ol \\ 742.7 327.3 rd \\ 748.7 327.3 tl \\ 754.7 327.3 cy \\ 736 333.3 lg \\ 742.7 333.3 pu \\ 748.7 333.3 dt \\ 754.7 333.3 ye \\ 742.7 338.7 gy \\ 754.7 365 mb \\
778 321.7 lv \\ 783.3 321.7 gy \\ 794 321.7 tl \\ 799.3 321.7 bl \\ 804.7 321.7 ol \\ 810 321.7 pu \\ 815.3 321.7 gy \\ 778 327.3 dg \\ 783.3 327.3 cy \\ 794 327.3 rd \\ 799.3 327.3 tl \\ 804.7 327.3 ye \\ 810 327.3 gn \\ 815.3 327.3 ol \\ 794 333.3 ye \\ 799.3 333.3 dt \\ 804.7 333.3 lg \\ 810 333.3 pu \\ 772.7 338.7 gy \\ 804.7 365 mb \\
894 321.7 bl \\ 904.7 321.7 lg \\ 915.3 321.7 bl \\ 926 321.7 gy \\ 936.7 321.7 dg \\ 915.3 327.3 or \\ 926 327.3 aq \\ 936.7 327.3 gn \\ 894 333.3 bl \\ 915.3 333.3 tl \\ 926 333.3 ol \\ 936.7 333.3 or \\ 915.3 338.7 gy \\ 926 365 mb \\
548 383.7 kh \\ 560 383.7 dt \\ 566 383.7 pu \\ 572 383.7 gn \\ 529.7 394.3 mb \\ 548 394.3 dg \\ 554 394.3 aq \\ 560 394.3 ol \\ 566 394.3 tl \\ 572 394.3 rd \\ 548 404.7 gy \\ 560 404.7 pu \\ 566 404.7 or \\ 572 404.7 ol \\ 560 415 lg \\ 554 426 bl \\ 560 426 bl \\
611.3 383.7 sb \\ 618.3 383.7 lv \\ 625.7 383.7 mg \\ 633 383.7 pu \\ 590.7 394.3 mb \\ 611.3 394.3 kh \\ 618.3 394.3 yg \\ 625.7 394.3 kh \\ 633 394.3 tl \\ 618.3 404.7 ol \\ 633 404.7 or \\ 633 415 lg \\ 625.7 426 bl \\ 633 426 bl \\
651.3 383.7 sb \\ 660 383.7 dg \\ 668.3 383.7 mg \\ 676.7 383.7 pu \\ 685 383.7 pu \\ 651.3 394.3 aq \\ 660 394.3 pu \\ 676.7 394.3 dt \\ 685 394.3 rd \\ 693.3 394.3 ye \\ 651.3 404.7 gy \\ 660 404.7 or \\ 676.7 404.7 kh \\ 685 404.7 bl \\ 660 415 lg \\ 668.3 426 bl \\ 685 426 bl \\
736 383.3 dg \\ 742.7 383.3 mg \\ 748.7 383.3 gn \\ 754.7 383.3 pu \\ 724 394 kh \\ 736 394 gy \\ 742.7 394 rd \\ 748.7 394 ol \\ 754.7 394 aq \\ 742.7 405 or \\ 748.7 405 pu \\ 754.7 405 ol \\ 748.7 415.7 lg \\ 712 426 bl \\ 742.7 426 bl \\
778 383.3 lv \\ 783.3 383.3 pu \\ 794 383.3 ye \\ 804.7 383.3 sb \\ 810 383.3 pu \\ 815.3 383.3 mg \\ 778 394 gn \\ 783.3 394 aq \\ 794 394 rd \\ 799.3 394 tl \\ 804.7 394 ye \\ 815.3 394 gy \\ 772.7 405 gy \\ 778 405 pu \\ 783.3 405 bl \\ 804.7 405 kh \\ 810 405 or \\ 783.3 415.7 lg \\ 799.3 426 bl \\ 810 426 bl \\
864.7 383.3 ye \\ 870 383.3 gn \\ 876 383.3 pu \\ 833.3 394 mb \\ 864.7 394 lg \\ 870 394 aq \\ 876 394 gy \\ 859.3 405 gy \\ 870 405 or \\ 876 405 bl \\ 876 415.7 lg \\ 864.7 426 bl \\ 876 426 bl \\
};
\end{axis}
\end{tikzpicture}
\end{document}
